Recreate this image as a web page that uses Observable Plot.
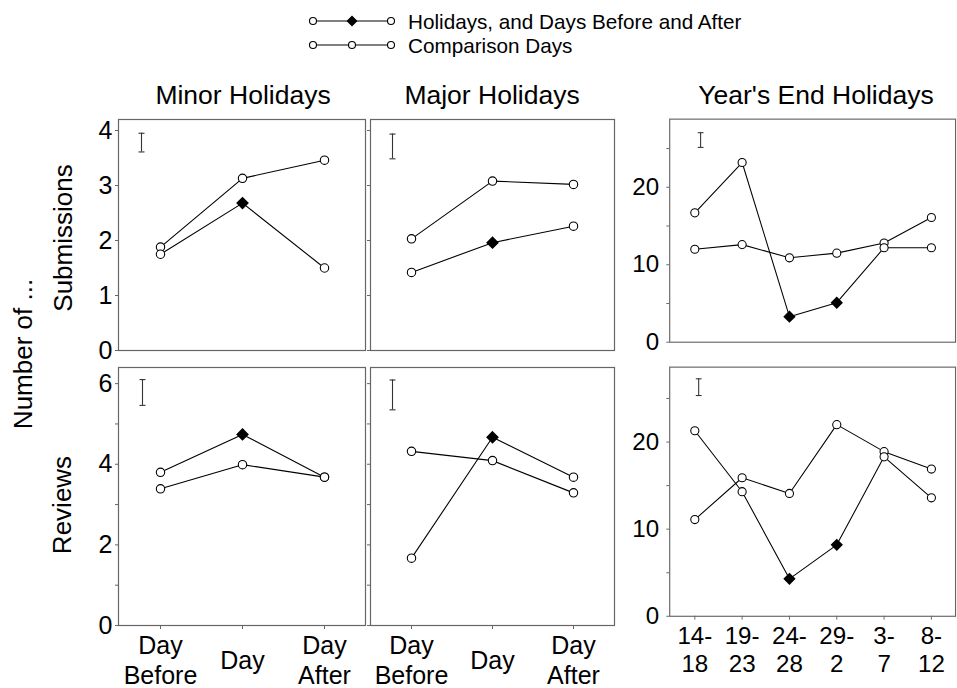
<!DOCTYPE html>
<html><head><meta charset="utf-8">
<script src="https://cdn.jsdelivr.net/npm/d3@7"></script>
<script src="https://cdn.jsdelivr.net/npm/@observablehq/plot@0.6"></script>
<style>
html,body{margin:0;padding:0;background:#fff;overflow:hidden;}
#root{position:relative;width:957px;height:688px;overflow:hidden;font-family:"Liberation Sans",Arial,sans-serif;}
.panel{position:absolute;}
#overlay{position:absolute;left:0;top:0;}
</style></head><body><div id="root"></div>
<script>
// ---- categories ----
const dayCats = ["Day Before", "Day", "Day After"];
const dayLabels = ["Day\nBefore", "Day", "Day\nAfter"];
const yearCats = ["14-18", "19-23", "24-28", "29-2", "3-7", "8-12"];
const yearLabels = ["14-\n18", "19-\n23", "24-\n28", "29-\n2", "3-\n7", "8-\n12"];
const dayHolidayPts = ["Day"];
const yearHolidayPts = ["24-28", "29-2"];

// ---- Submissions ----
const minorSubHol = [1.75, 2.68, 1.50];
const minorSubCmp = [1.88, 3.13, 3.46];
const majorSubHol = [1.42, 1.96, 2.26];
const majorSubCmp = [2.03, 3.08, 3.02];
const yearSubHol = [16.7, 23.2, 3.3, 5.1, 12.2, 12.2];
const yearSubCmp = [12.0, 12.6, 10.9, 11.5, 12.8, 16.1];

// ---- Reviews ----
const minorRevHol = [3.80, 4.74, 3.68];
const minorRevCmp = [3.39, 3.99, 3.68];
const majorRevHol = [1.67, 4.67, 3.68];
const majorRevCmp = [4.32, 4.09, 3.29];
const yearRevHol = [21.3, 14.3, 4.3, 8.2, 18.3, 13.6];
const yearRevCmp = [11.1, 15.9, 14.1, 22.0, 18.9, 16.9];

// ---- error bars (center, length) : minor, major, year's end ----
const errSubCenter = [3.78, 3.71, 26.1];
const errSubLength = [0.34, 0.45, 1.9];
const errRevCenter = [5.78, 5.72, 26.3];
const errRevLength = [0.64, 0.74, 1.92];

// ---- axis ticks ----
const subDayTicks = [0, 1, 2, 3, 4];
const revDayTicks = [0, 1, 2, 3, 4, 5, 6];
const yearTicks = [0, 5, 10, 15, 20, 25];

const FONT = '"Liberation Sans", Arial, Helvetica, sans-serif';
const root = document.getElementById("root");

const cap = {draw(ctx) { ctx.moveTo(-3, 0); ctx.lineTo(3, 0); }};

function makePanel(o) {
  const mL = 52, mR = 2, mT = 10, mB = o.xLabels ? 62 : 10;
  const W = o.fw + mL + mR, H = o.fh + mT + mB;
  const holRows = o.hol.map((v, i) => ({cat: o.cats[i], v, diamond: o.holPts.includes(o.cats[i])}));
  const cmpRows = o.cmp.map((v, i) => ({cat: o.cats[i], v}));
  const errRow = {cat: o.cats[0], lo: o.err - o.errLen / 2, hi: o.err + o.errLen / 2};
  const marks = [
    Plot.frame({stroke: "#666", strokeWidth: 1.2}),
    Plot.axisY({ticks: o.yTicks, tickFormat: o.yFormat, tickSize: 3, tickPadding: o.tickPad,
      fontSize: 25, label: null, stroke: "#666", fill: "black"}),
    Plot.ruleX([errRow], {x: "cat", y1: "lo", y2: "hi", dx: o.errDx, stroke: "#333", strokeWidth: 1.1}),
    Plot.dot([errRow], {x: "cat", y: "lo", dx: o.errDx, symbol: cap, stroke: "#333", fill: "none", strokeWidth: 1.1}),
    Plot.dot([errRow], {x: "cat", y: "hi", dx: o.errDx, symbol: cap, stroke: "#333", fill: "none", strokeWidth: 1.1}),
    Plot.line(cmpRows, {x: "cat", y: "v", stroke: "black", strokeWidth: 1.1}),
    Plot.line(holRows, {x: "cat", y: "v", stroke: "black", strokeWidth: 1.1}),
    Plot.dot(cmpRows, {x: "cat", y: "v", r: 4.2, fill: "white", stroke: "black", strokeWidth: 1.1}),
    Plot.dot(holRows.filter(d => !d.diamond), {x: "cat", y: "v", r: 4.2, fill: "white", stroke: "black", strokeWidth: 1.1}),
    Plot.dot(holRows.filter(d => d.diamond), {x: "cat", y: "v", symbol: "diamond2", r: 4.8, fill: "black", stroke: "black"})
  ];
  const xOpts = {type: "point", domain: o.cats, padding: 0.5, range: [mL, mL + o.fw]};
  if (o.xLabels) {
    marks.push(Plot.axisX({tickSize: 4, tickFormat: () => "", label: null, stroke: "#666"}));
    marks.push(Plot.text(o.cats, {x: d => d, text: (d, i) => o.xLabels[i], frameAnchor: "bottom",
      dy: 34, lineAnchor: "middle", lineHeight: 1.18, fontSize: 25, fill: "black"}));
  } else {
    xOpts.axis = null;
  }
  const svg = Plot.plot({
    width: W, height: H,
    marginLeft: mL, marginRight: mR, marginTop: mT, marginBottom: mB,
    style: {fontFamily: FONT, fontSize: "25px", background: "none", overflow: "visible", color: "black"},
    x: xOpts,
    y: {domain: o.yDomain, label: null},
    marks
  });
  const div = document.createElement("div");
  div.className = "panel";
  div.style.left = (o.fx - mL) + "px";
  div.style.top = (o.fy - mT) + "px";
  div.appendChild(svg);
  root.appendChild(div);
}

const intFmt = d => String(d);
const evenFmt = d => (d % 2 === 0 ? String(d) : "");
const tenFmt = d => (d % 10 === 0 ? String(d) : "");

// top row (Submissions)
makePanel({fx: 118, fy: 119, fw: 247, fh: 231, cats: dayCats, hol: minorSubHol, cmp: minorSubCmp, holPts: dayHolidayPts,
  err: errSubCenter[0], errLen: errSubLength[0], errDx: -19, yDomain: [0, 4.2], yTicks: subDayTicks, yFormat: intFmt, tickPad: 3});
makePanel({fx: 370, fy: 119, fw: 244, fh: 231, cats: dayCats, hol: majorSubHol, cmp: majorSubCmp, holPts: dayHolidayPts,
  err: errSubCenter[1], errLen: errSubLength[1], errDx: -19, yDomain: [0, 4.2], yTicks: subDayTicks, yFormat: () => "", tickPad: 3});
makePanel({fx: 671, fy: 119, fw: 296, fh: 231, cats: yearCats, hol: yearSubHol, cmp: yearSubCmp, holPts: yearHolidayPts,
  err: errSubCenter[2], errLen: errSubLength[2], errDx: 6, yDomain: [0, 28.8], yTicks: yearTicks, yFormat: tenFmt, tickPad: 8});
// bottom row (Reviews)
makePanel({fx: 118, fy: 367, fw: 247, fh: 258, cats: dayCats, hol: minorRevHol, cmp: minorRevCmp, holPts: dayHolidayPts, xLabels: dayLabels,
  err: errRevCenter[0], errLen: errRevLength[0], errDx: -18, yDomain: [0, 6.4], yTicks: revDayTicks, yFormat: evenFmt, tickPad: 3});
makePanel({fx: 370, fy: 367, fw: 244, fh: 258, cats: dayCats, hol: majorRevHol, cmp: majorRevCmp, holPts: dayHolidayPts, xLabels: dayLabels,
  err: errRevCenter[1], errLen: errRevLength[1], errDx: -19, yDomain: [0, 6.4], yTicks: revDayTicks, yFormat: () => "", tickPad: 3});
makePanel({fx: 671, fy: 367, fw: 296, fh: 258, cats: yearCats, hol: yearRevHol, cmp: yearRevCmp, holPts: yearHolidayPts, xLabels: yearLabels,
  err: errRevCenter[2], errLen: errRevLength[2], errDx: 4, yDomain: [0, 28.6], yTicks: yearTicks, yFormat: tenFmt, tickPad: 8});

// ---- overlay texts and legend ----
const NS = "http://www.w3.org/2000/svg";
const ov = document.createElementNS(NS, "svg");
ov.setAttribute("id", "overlay");
ov.setAttribute("width", 957);
ov.setAttribute("height", 688);
ov.style.fontFamily = FONT;
function txt(s, x, y, size, anchor, rot) {
  const t = document.createElementNS(NS, "text");
  t.textContent = s;
  t.setAttribute("font-size", size);
  t.setAttribute("text-anchor", anchor || "middle");
  t.setAttribute("fill", "black");
  t.setAttribute("transform", `translate(${x},${y})` + (rot ? ` rotate(${rot})` : ""));
  ov.appendChild(t);
}
function el(name, attrs) {
  const e = document.createElementNS(NS, name);
  for (const k in attrs) e.setAttribute(k, attrs[k]);
  ov.appendChild(e);
}
txt("Minor Holidays", 243, 104, 26.5);
txt("Major Holidays", 492, 104, 26.5);
txt("Year's End Holidays", 816, 104, 26.5);
txt("Submissions", 72, 238, 26, "middle", -90);
txt("Reviews", 71, 505, 26, "middle", -90);
txt("Number of ...", 32, 354, 26, "middle", -90);
// legend
const legendRows = [
  {label: "Holidays, and Days Before and After", y: 21, mid: "diamond"},
  {label: "Comparison Days", y: 45, mid: "circle"}
];
legendRows.forEach(r => {
  el("line", {x1: 313, x2: 391, y1: r.y, y2: r.y, stroke: "black", "stroke-width": 1.1});
  el("circle", {cx: 313, cy: r.y, r: 3.5, fill: "white", stroke: "black", "stroke-width": 1.1});
  el("circle", {cx: 391, cy: r.y, r: 3.5, fill: "white", stroke: "black", "stroke-width": 1.1});
  if (r.mid === "diamond") el("path", {d: `M352,${r.y - 5.5}L357.5,${r.y}L352,${r.y + 5.5}L346.5,${r.y}Z`, fill: "black"});
  else el("circle", {cx: 352, cy: r.y, r: 3.5, fill: "white", stroke: "black", "stroke-width": 1.1});
  txt(r.label, 408, r.y + 7.5, 20.7, "start");
});
root.appendChild(ov);
</script>
</body></html>
